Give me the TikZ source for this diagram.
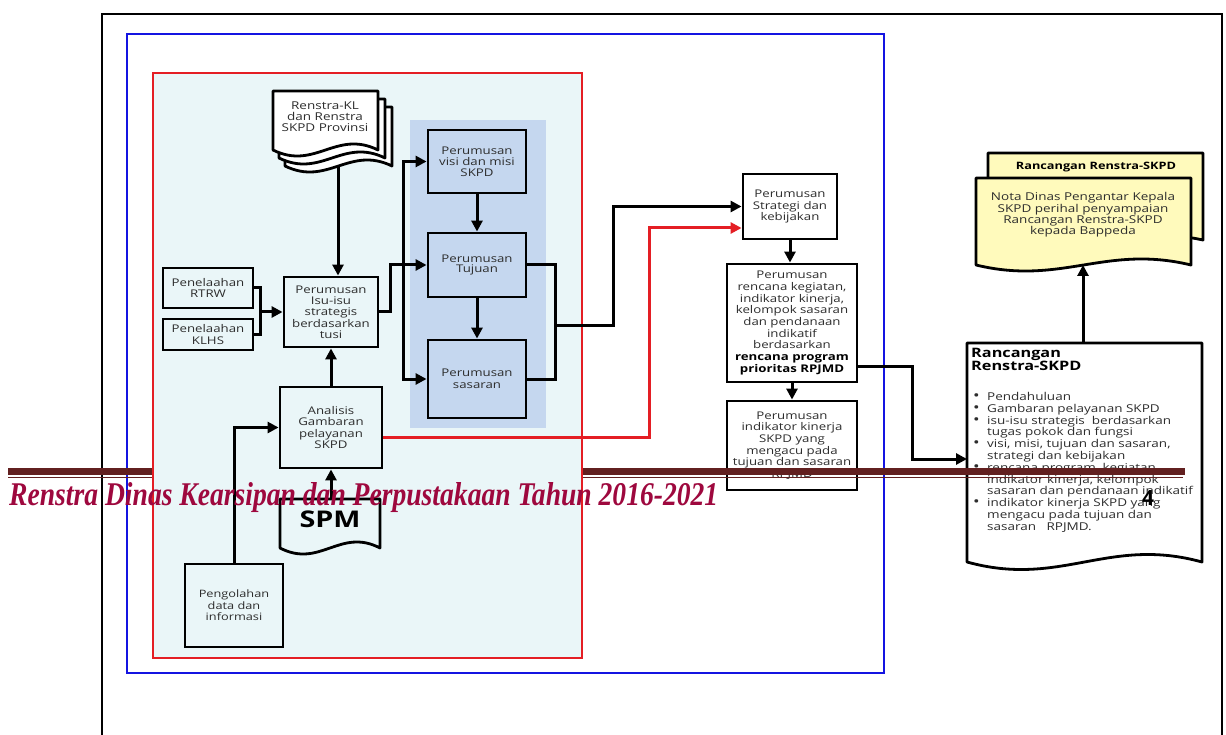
\documentclass[tikz,border=0pt]{standalone}
\usepackage{fontspec}
\setmainfont[FakeStretch=1.25]{Open Sans}
\newfontfamily\numfont{Open Sans}
\newfontfamily\hdrfont{Liberation Serif}
\usetikzlibrary{arrows.meta}
\definecolor{cyanbg}{RGB}{234,246,248}
\definecolor{panel}{RGB}{197,215,239}
\definecolor{redframe}{RGB}{228,30,36}
\definecolor{blueframe}{RGB}{20,20,225}
\definecolor{band}{RGB}{98,32,32}
\definecolor{hdr}{RGB}{158,8,62}
\definecolor{txt}{RGB}{45,45,45}
\definecolor{yel}{RGB}{255,250,188}
\newcommand\fsz[2]{\fontsize{#1}{#2}\selectfont}
\newcommand\docshape[6]{%
  \draw[#1] (#2,#3) -- (#2,#5) .. controls ({#2+0.4*(#4-#2)},{#5+2.6*#6}) and ({#2+0.6*(#4-#2)},{#5-2.6*#6}) .. (#4,#5) -- (#4,#3) -- cycle;}
\newcommand\itm{\makebox[14pt][l]{\scalebox{1.3}{\textbullet}}}
\newcommand\cnt{\hspace*{14pt}}
\tikzset{
  bx/.style={draw, line width=2.9pt, align=center, inner sep=1pt, text=txt},
  docst/.style={draw, line width=2.8pt, line join=round},
  conn/.style={line width=3pt, -{Triangle[length=11pt,width=11pt]}},
  plain/.style={line width=3pt},
  lbl/.style={align=center, inner sep=0pt, text=txt},
}
\begin{document}
\begin{tikzpicture}[x=1pt,y=-1pt]
\useasboundingbox (0,0) rectangle (1226,735);
\fill[white] (0,0) rectangle (1226,735);
% outer frames
\draw[line width=2pt] (102,735) -- (102,14) -- (1222,14) -- (1222,735);
\draw[blueframe, line width=2.7pt] (127,34) rectangle (884,673);
% right column
\node[bx, fill=white, minimum width=94pt, minimum height=65pt, font=\fsz{10.6}{11.4}] (strat) at (790,206.5) {Perumusan\\Strategi dan\\kebijakan};
\node[bx, fill=white, minimum width=130pt, minimum height=118pt, font=\fsz{10.6}{11.7}] (renc) at (792,323) {Perumusan\\rencana kegiatan,\\indikator kinerja,\\kelompok sasaran\\dan pendanaan\\indikatif\\berdasarkan\\\textcolor{black}{\bfseries rencana program}\\\textcolor{black}{\bfseries prioritas RPJMD}};
\node[bx, fill=white, minimum width=130pt, minimum height=89pt, font=\fsz{10.6}{11.7}] (indk) at (792,445.5) {Perumusan\\indikator kinerja\\SKPD yang\\mengacu pada\\tujuan dan sasaran\\RPJMD};
\draw[conn] (strat.south) -- (strat.south |- renc.north);
\draw[conn] (renc.south) -- (indk.north);
% yellow documents
\docshape{docst, fill=yel}{988}{153}{1203}{240}{7}
\node[lbl, text=black, font=\fsz{10.2}{11}\bfseries] (yback) at (1096,167) {Rancangan Renstra-SKPD};
\docshape{docst, fill=yel}{976}{178}{1191}{265}{8}
\node[lbl, font=\fsz{10.8}{11.3}] (yfront) at (1083,215) {Nota Dinas Pengantar Kepala\\SKPD perihal penyampaian\\Rancangan Renstra-SKPD\\kepada Bappeda};
\coordinate (ybot) at (1083,265);
% rancangan document
\docshape{docst, fill=white}{967}{343}{1202}{562}{10}
\node[anchor=north west, align=left, inner sep=0pt, text=black, font=\fsz{13}{12.7}\bfseries] (rtitle) at (971,348) {Rancangan\\Renstra-SKPD};
\node[anchor=north west, align=left, inner sep=0pt, text=txt, font=\fsz{10.8}{11.8}] (rlist) at (973,392) {\itm Pendahuluan\\\itm Gambaran pelayanan SKPD\\\itm isu-isu strategis \ berdasarkan\\\cnt tugas pokok dan fungsi\\\itm visi, misi, tujuan dan sasaran,\\\cnt strategi dan kebijakan\\\itm rencana program, kegiatan,\\\cnt indikator kinerja, kelompok\\\cnt sasaran dan pendanaan indikatif\\\itm indikator kinerja SKPD yang\\\cnt mengacu pada tujuan dan\\\cnt sasaran \ \ RPJMD.};
\coordinate (rtop) at (1083,343);
\coordinate (rin) at (967,459);
\draw[conn] (rtop) -- (ybot);
\draw[conn] ([yshift=-43pt]renc.east) -- (912,366) |- (rin);
% header band
\fill[band] (8,468.3) rectangle (1185,475);
\fill[band] (8,476.8) rectangle (1183,478.3);
% red box
\filldraw[fill=cyanbg, draw=redframe, line width=2.7pt] (153,73) rectangle (582,658);
\fill[panel] (410,120) rectangle (546,428);
% renstra-KL document
\docshape{docst, fill=white}{285}{107}{392}{166}{8}
\docshape{docst, fill=white}{279}{99}{385}{158}{8}
\docshape{docst, fill=white}{273}{91}{378}{150}{8}
\node[lbl, font=\fsz{10.8}{11}] (rkl) at (325,117) {Renstra-KL\\dan Renstra\\SKPD Provinsi};
\coordinate (rklbot) at (338,166);
% boxes
\node[bx, fill=panel, minimum width=98pt, minimum height=63pt, font=\fsz{10.6}{10.8}] (visi) at (477,161.5) {Perumusan\\visi dan misi\\SKPD};
\node[bx, fill=panel, minimum width=98pt, minimum height=64pt, font=\fsz{10.6}{10.8}] (tuj) at (477,265) {Perumusan\\Tujuan};
\node[bx, fill=panel, minimum width=98pt, minimum height=78pt, font=\fsz{10.6}{11.5}] (sas) at (477,379) {Perumusan\\sasaran};
\node[bx, fill=cyanbg, minimum width=90pt, minimum height=40pt, font=\fsz{10.6}{11.5}] (rtrw) at (208,288) {Penelaahan\\RTRW};
\node[bx, fill=cyanbg, minimum width=90pt, minimum height=31pt, font=\fsz{10.6}{11.5}] (klhs) at (208,334.5) {Penelaahan\\KLHS};
\node[bx, fill=cyanbg, minimum width=94pt, minimum height=70pt, font=\fsz{10.6}{11.3}] (isu) at (331,312) {Perumusan\\Isu-isu\\strategis\\berdasarkan\\tusi};
\node[bx, fill=cyanbg, minimum width=102pt, minimum height=81pt, font=\fsz{10.6}{11.3}] (anal) at (331,427.5) {Analisis\\Gambaran\\pelayanan\\SKPD};
\node[bx, fill=cyanbg, minimum width=98pt, minimum height=83pt, font=\fsz{10.2}{11.5}] (peng) at (234,605.5) {Pengolahan\\data dan\\informasi};
% SPM document
\docshape{docst, fill=cyanbg}{280}{499}{380}{548}{8}
\node[lbl, text=black, font=\fsz{23}{23}\bfseries] (spm) at (330,519) {SPM};
\coordinate (spmtop) at (331,499);
% connectors in red box
\coordinate (jn) at (260,312);
\draw[plain] (rtrw.east) -| (jn);
\draw[plain] (klhs.east) -| (jn);
\draw[conn] (jn) -- (isu.west);
\draw[conn] (rklbot) -- (rklbot |- isu.north);
\draw[conn] (anal.north) -- (isu.south);
\draw[conn] (spmtop) -- (anal.south);
\draw[conn] (peng.north) |- (anal.west);
\coordinate (sp) at (403,265);
\draw[conn] (isu.east) -- (390,312) |- (tuj.west);
\draw[conn] (sp) |- (visi.west);
\draw[conn] (sp) |- (sas.west);
\draw[conn] (visi.south) -- (tuj.north);
\draw[conn] (tuj.south) -- (sas.north);
\coordinate (rj) at (555,325);
\draw[plain] (tuj.east) -| (rj) |- (sas.east);
\draw[conn] (rj) -- (613,325) |- (strat.west);
\draw[conn, redframe] ([yshift=-9.5pt]anal.east) -- (649,437) |- ([yshift=-21.5pt]strat.west);
% header text and page number
\node[anchor=base west, inner sep=0pt, text=hdr] (htext) at (9,505) {\resizebox{709pt}{23pt}{\hdrfont\bfseries\itshape Renstra Dinas Kearsipan dan Perpustakaan Tahun 2016-2021}};
\node[inner sep=0pt, font=\numfont\fontsize{21}{21}\selectfont\bfseries] (pnum) at (1148,498) {4};
\end{tikzpicture}
\end{document}
